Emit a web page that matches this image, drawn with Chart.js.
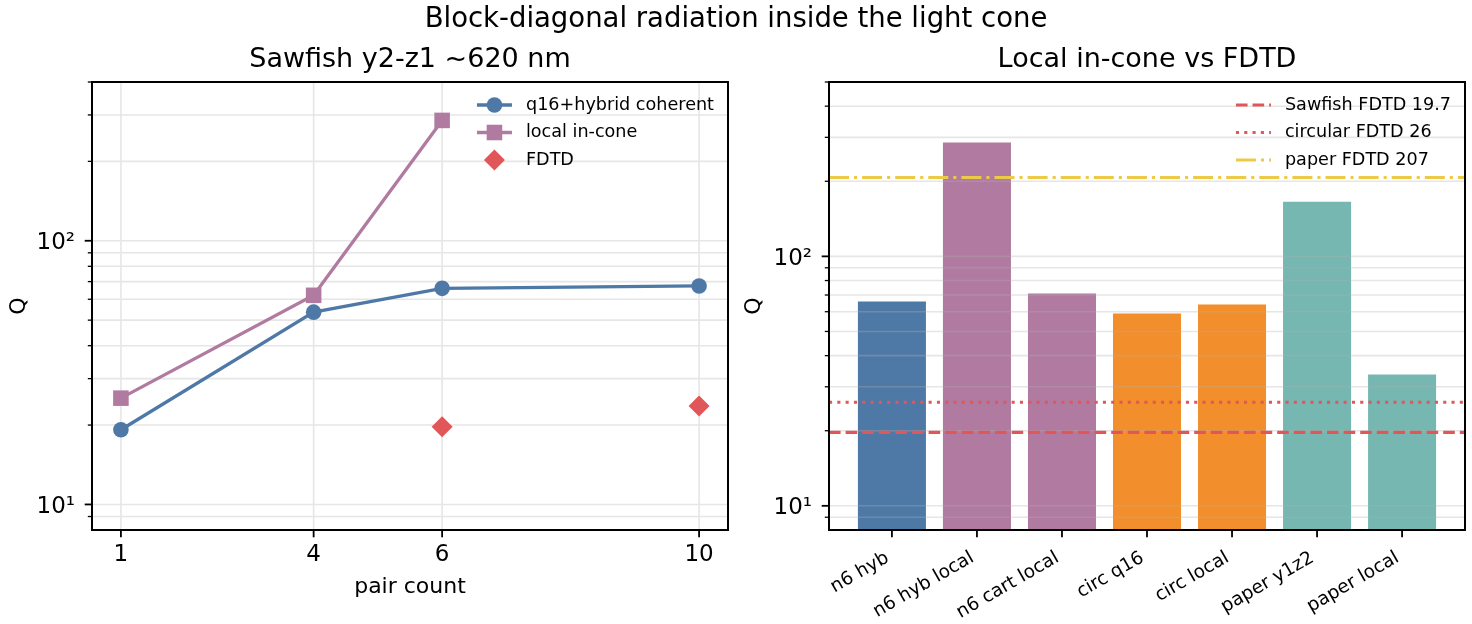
<!DOCTYPE html>
<html><head><meta charset="utf-8">
<script src="https://cdn.jsdelivr.net/npm/chart.js@4.4.1/dist/chart.umd.min.js"></script>
<style>
html,body{margin:0;padding:0;background:#fff;}
#wrap{position:relative;width:1472px;height:624px;overflow:hidden;background:#fff;}
canvas{position:absolute;top:0;}
#c1{left:0;} #c2{left:736px;}
#sup{position:absolute;left:0;top:4px;width:1472px;text-align:center;font-family:'DejaVu Sans';font-size:27.5px;line-height:1;color:#000;white-space:nowrap;}
</style></head><body>
<div id="wrap">
<canvas id="c1" width="736" height="624"></canvas>
<canvas id="c2" width="736" height="624"></canvas>
<div id="sup">Block-diagonal radiation inside the light cone</div>
</div>
<script>
// ---------------- data ----------------
const pairCount = [1, 4, 6, 10];
const q16Hybrid = [19.2, 53.6, 66, 67.4];
const localPairs = [1, 4, 6];
const localInCone = [25.3, 62.1, 286];
const fdtdPairs = [6, 10];
const fdtdQ = [19.7, 23.6];
const pairTicks = [1, 4, 6, 10];

const barCategories = ['n6 hyb', 'n6 hyb local', 'n6 cart local', 'circ q16', 'circ local', 'paper y1z2', 'paper local'];
const barValues = [66, 286, 70.9, 59, 64.1, 165.5, 33.6];
const refLabels = ['Sawfish FDTD 19.7', 'circular FDTD 26', 'paper FDTD 207'];
const refValues = [19.7, 26, 207];

const logTicksLeft = [9, 10, 20, 30, 40, 50, 60, 70, 80, 90, 100, 200, 300, 400];
const logTicksRight = [9, 10, 20, 30, 40, 50, 60, 70, 80, 90, 100, 200, 300, 400, 500];
const majorLogTicks = [10, 100];

// ---------------- styles ----------------
const BLUE = '#4e79a7', PURPLE = '#b07aa1', RED = '#e15759', ORANGE = '#f28e2b', TEAL = '#76b7b2', YELLOW = '#edc948';
const barColors = [BLUE, PURPLE, PURPLE, ORANGE, ORANGE, TEAL, TEAL];
const refColors = [RED, RED, YELLOW];
const refDashes = [[11.6, 5], [3.1, 5.2], [20, 5, 3.1, 5]];
const FONT = "'DejaVu Sans'";
Chart.defaults.font.family = FONT;
Chart.defaults.color = '#000';

function yLabel(v) { return v === 10 ? '10\u00B9' : (v === 100 ? '10\u00B2' : ''); }

function drawMarker(ctx, style, r, x, y) {
  ctx.beginPath();
  if (style === 'circle') { ctx.arc(x, y, r, 0, Math.PI * 2); }
  else if (style === 'rect') { const s = Math.SQRT1_2 * r; ctx.rect(x - s, y - s, 2 * s, 2 * s); }
  else if (style === 'rectRot') { ctx.moveTo(x, y - r); ctx.lineTo(x + r, y); ctx.lineTo(x, y + r); ctx.lineTo(x - r, y); ctx.closePath(); }
  ctx.fill();
}

function drawGrid(chart, o) {
  const {ctx, chartArea: a, scales: {x, y}} = chart;
  ctx.save();
  ctx.beginPath(); ctx.rect(a.left, a.top, a.right - a.left, a.bottom - a.top); ctx.clip();
  ctx.strokeStyle = 'rgba(176,176,176,0.32)';
  ctx.lineWidth = 1.6;
  ctx.beginPath();
  y.ticks.forEach(t => { const py = y.getPixelForValue(t.value); ctx.moveTo(a.left, py); ctx.lineTo(a.right, py); });
  if (o.xGrid) x.ticks.forEach(t => { const px = x.getPixelForValue(t.value); ctx.moveTo(px, a.top); ctx.lineTo(px, a.bottom); });
  ctx.stroke();
  ctx.restore();
}

function drawFrame(chart) {
  const {ctx, chartArea: a, scales: {x, y}} = chart;
  ctx.save();
  ctx.strokeStyle = '#000';
  y.ticks.forEach(t => {
    const py = y.getPixelForValue(t.value);
    if (py < a.top - 1 || py > a.bottom + 1) return;
    const major = majorLogTicks.includes(t.value);
    ctx.lineWidth = major ? 1.8 : 1.3;
    ctx.beginPath(); ctx.moveTo(a.left, py); ctx.lineTo(a.left - (major ? 7.3 : 4.2), py); ctx.stroke();
  });
  ctx.lineWidth = 1.8;
  x.ticks.forEach(t => {
    const px = x.getPixelForValue(t.value);
    ctx.beginPath(); ctx.moveTo(px, a.bottom); ctx.lineTo(px, a.bottom + 7.3); ctx.stroke();
  });
  ctx.lineWidth = 2;
  ctx.strokeRect(a.left, a.top, a.right - a.left, a.bottom - a.top);
  ctx.restore();
}

function drawLegendAndTitle(chart, o) {
  const {ctx, chartArea: a} = chart;
  ctx.save();
  ctx.fillStyle = '#000';
  ctx.font = `27px ${FONT}`;
  ctx.textAlign = 'center'; ctx.textBaseline = 'alphabetic';
  ctx.fillText(o.title, (a.left + a.right) / 2, 67);

  const items = chart.data.datasets.filter(ds => ds.inLegend !== false);
  ctx.font = `17.6px ${FONT}`;
  const maxW = Math.max(...items.map(ds => ctx.measureText(ds.label).width));
  const textX = a.right - 14 - maxW;
  const hEnd = textX - 14, hStart = hEnd - 35;
  items.forEach((ds, k) => {
    const yy = a.top + 23 + k * 27.5;
    if (ds.showLine !== false) {
      ctx.save();
      ctx.strokeStyle = ds.borderColor; ctx.lineWidth = ds.borderWidth;
      ctx.setLineDash(ds.borderDash || []); ctx.lineCap = 'butt';
      ctx.beginPath(); ctx.moveTo(hStart, yy); ctx.lineTo(hEnd, yy); ctx.stroke();
      ctx.restore();
    }
    if (ds.pointRadius > 0) {
      ctx.fillStyle = ds.pointBackgroundColor;
      drawMarker(ctx, ds.pointStyle, ds.pointRadius, (hStart + hEnd) / 2, yy);
    }
    ctx.fillStyle = '#000';
    ctx.textAlign = 'left'; ctx.textBaseline = 'middle';
    ctx.fillText(ds.label, textX, yy);
  });
  ctx.restore();
}

const mplPlugin = {
  id: 'mpl',
  beforeDatasetsDraw(chart, args, o) { if (o.gridPhase === 'before') drawGrid(chart, o); },
  afterDatasetDraw(chart, args, o) { if (o.gridPhase === 'afterBar' && args.meta.type === 'bar') drawGrid(chart, o); },
  afterDatasetsDraw(chart) { drawFrame(chart); },
  afterDraw(chart, args, o) { drawLegendAndTitle(chart, o); }
};

function yAxis(min, max, tickVals, axisWidth, titlePadTop) {
  return {
    type: 'logarithmic', min, max,
    afterBuildTicks: s => { s.ticks = tickVals.map(v => ({value: v})); },
    afterFit: s => { s.width = axisWidth; s.paddingTop = 0; s.paddingBottom = 0; },
    grid: {display: false, drawTicks: false},
    border: {display: false},
    ticks: {callback: v => yLabel(v), font: {size: 23}, color: '#000', padding: 17, labelOffset: 2.5, autoSkip: false},
    title: {display: true, text: 'Q', font: {size: 22}, color: '#000', padding: {top: titlePadTop, bottom: 0}}
  };
}

// ---------------- left chart ----------------
new Chart(document.getElementById('c1'), {
  type: 'line',
  data: {
    datasets: [
      {label: 'q16+hybrid coherent', data: pairCount.map((p, i) => ({x: p, y: q16Hybrid[i]})),
       borderColor: BLUE, backgroundColor: BLUE, pointBackgroundColor: BLUE, pointBorderColor: BLUE,
       borderWidth: 3.3, pointRadius: 7.8, pointBorderWidth: 0, pointStyle: 'circle', tension: 0, order: 3},
      {label: 'local in-cone', data: localPairs.map((p, i) => ({x: p, y: localInCone[i]})),
       borderColor: PURPLE, backgroundColor: PURPLE, pointBackgroundColor: PURPLE, pointBorderColor: PURPLE,
       borderWidth: 3.3, pointRadius: 11, pointBorderWidth: 0, pointStyle: 'rect', tension: 0, order: 2},
      {label: 'FDTD', data: fdtdPairs.map((p, i) => ({x: p, y: fdtdQ[i]})), showLine: false,
       borderColor: RED, backgroundColor: RED, pointBackgroundColor: RED, pointBorderColor: RED,
       borderWidth: 0, pointRadius: 10.5, pointBorderWidth: 0, pointStyle: 'rectRot', order: 1}
    ]
  },
  options: {
    responsive: false, animation: false, devicePixelRatio: 1,
    layout: {autoPadding: false, padding: {top: 82, right: 8, left: 0, bottom: 0}},
    plugins: {legend: {display: false}, tooltip: {enabled: false},
      mpl: {gridPhase: 'before', xGrid: true, title: 'Sawfish y2-z1 ~620 nm'}},
    scales: {
      x: {type: 'linear', min: 0.55, max: 10.45, offset: false,
        afterBuildTicks: s => { s.ticks = pairTicks.map(v => ({value: v})); },
        afterFit: s => { s.height = 94; s.paddingLeft = 0; s.paddingRight = 0; },
        grid: {display: false, drawTicks: false}, border: {display: false},
        ticks: {font: {size: 23}, color: '#000', padding: 11, maxRotation: 0, autoSkip: false},
        title: {display: true, text: 'pair count', font: {size: 22}, color: '#000', padding: {top: 0, bottom: 24}}},
      y: yAxis(8, 400, logTicksLeft, 92, 6)
    }
  },
  plugins: [mplPlugin]
});

// ---------------- right chart ----------------
const xMin = -0.74, xMax = barCategories.length - 1 + 0.74;
const refDatasets = refValues.map((v, i) => ({
  type: 'line', label: refLabels[i], data: [{x: xMin, y: v}, {x: xMax, y: v}],
  borderColor: refColors[i], backgroundColor: refColors[i], borderWidth: 3.1, borderDash: refDashes[i],
  borderCapStyle: 'butt', pointRadius: 0, tension: 0, order: 1
}));

new Chart(document.getElementById('c2'), {
  type: 'bar',
  data: {
    datasets: [
      {type: 'bar', label: 'Q', inLegend: false, data: barValues.map((v, i) => ({x: i, y: v})),
       backgroundColor: barColors, borderWidth: 0, barPercentage: 0.8, categoryPercentage: 1, order: 10},
      ...refDatasets
    ]
  },
  options: {
    responsive: false, animation: false, devicePixelRatio: 1,
    layout: {autoPadding: false, padding: {top: 82, right: 7, left: 0, bottom: 0}},
    plugins: {legend: {display: false}, tooltip: {enabled: false},
      mpl: {gridPhase: 'afterBar', xGrid: false, title: 'Local in-cone vs FDTD'}},
    scales: {
      x: {type: 'linear', min: xMin, max: xMax, offset: false,
        afterBuildTicks: s => { s.ticks = barCategories.map((c, i) => ({value: i})); },
        afterFit: s => { s.height = 94; s.paddingLeft = 0; s.paddingRight = 0; },
        grid: {display: false, drawTicks: false}, border: {display: false},
        ticks: {callback: (v, i) => barCategories[i], font: {size: 18.5}, color: '#000', padding: 17,
          labelOffset: -4.5, minRotation: 30, maxRotation: 30, autoSkip: false}},
      y: yAxis(8, 500, logTicksRight, 93, 5)
    }
  },
  plugins: [mplPlugin]
});
</script>
</body></html>
